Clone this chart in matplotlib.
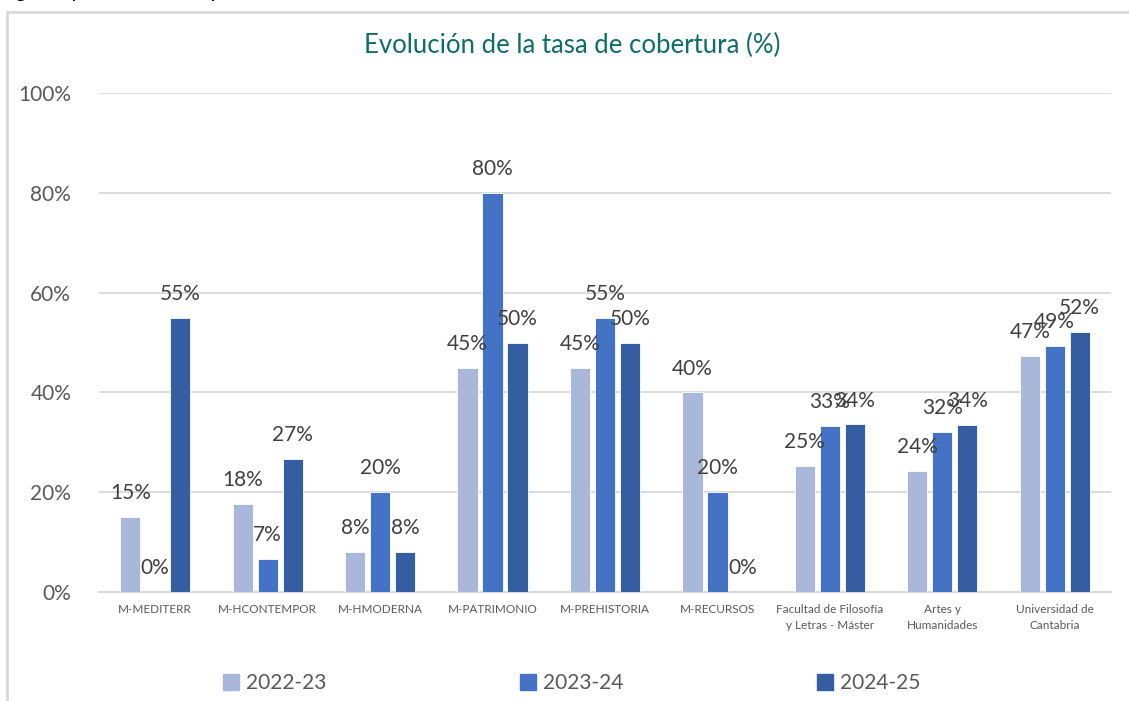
import numpy as np
import matplotlib.pyplot as plt
from matplotlib.patches import Rectangle
from matplotlib.lines import Line2D

plt.rcParams['font.family'] = ['Lato', 'DejaVu Sans']

categorias = ['M-MEDITERR', 'M-HCONTEMPOR', 'M-HMODERNA', 'M-PATRIMONIO',
              'M-PREHISTORIA', 'M-RECURSOS',
              'Facultad de Filosofía\ny Letras - Máster',
              'Artes y\nHumanidades', 'Universidad de\nCantabria']
cursos = ['2022-23', '2023-24', '2024-25']
t_2022 = [15.0, 17.6, 8.0, 45.0, 45.0, 40.0, 25.2, 24.2, 47.4]
t_2023 = [0.0, 6.7, 20.0, 80.0, 55.0, 20.0, 33.3, 32.1, 49.4]
t_2024 = [55.0, 26.6, 8.0, 50.0, 50.0, 0.0, 33.6, 33.5, 52.1]
colores = ['#A9B7DB', '#4472C4', '#355DA2']

gris = '#595959'
fig = plt.figure(figsize=(11.29, 7.01), dpi=100)
ax = fig.add_axes([0.0877, 0.1555, 0.8963, 0.7115])

x = np.arange(len(categorias))
ancho = 0.18
paso = 0.222
for k, (serie, col) in enumerate(zip([t_2022, t_2023, t_2024], colores)):
    pos = x + (k - 1) * paso
    bars = ax.bar(pos, serie, width=ancho, color=col, edgecolor='white',
                  linewidth=0.6, zorder=3)
    for b, v in zip(bars, serie):
        ax.annotate(f'{v:.0f}%', (b.get_x() + b.get_width() / 2, v),
                    xytext=(0, 10), textcoords='offset points',
                    ha='center', va='bottom', fontsize=15, color='#404040',
                    zorder=4)

ax.set_xlim(-0.5, len(categorias) - 0.5)
ax.set_ylim(0, 100)
ax.set_yticks(np.arange(0, 101, 20))
ax.set_yticklabels([f'{v}%' for v in range(0, 101, 20)], fontsize=15, color=gris)
ax.set_xticks(x)
ax.set_xticklabels(categorias, fontsize=8.5, color=gris, linespacing=1.5)
ax.tick_params(axis='both', length=0)
ax.tick_params(axis='y', pad=20)
ax.tick_params(axis='x', pad=9)
ax.grid(axis='y', color='#D9D9D9', linewidth=1.3, zorder=0)
for s in ['top', 'right', 'left']:
    ax.spines[s].set_visible(False)
ax.spines['bottom'].set_color('#D9D9D9')
ax.spines['bottom'].set_linewidth(1.5)

fig.text(0.507, 0.935, 'Evolución de la tasa de cobertura (%)', ha='center',
         va='center', fontsize=18.5, color='#0E6D69')

# texto del documento cortado arriba
fig.text(0.0, 1.013, 'ingreso y el número de plazas ofertadas.', ha='left',
         va='center', fontsize=16, style='italic', color='black')

# marco del gráfico
fig.add_artist(Line2D([0.0065, 1.0], [0.983, 0.983], transform=fig.transFigure,
                      color='#D9D9D9', linewidth=2))
fig.add_artist(Line2D([0.0065, 0.0065], [0.0, 0.983], transform=fig.transFigure,
                      color='#D9D9D9', linewidth=2))

handles = [Rectangle((0, 0), 1, 1, color=c) for c in colores]
fig.legend(handles, cursos, loc='center', bbox_to_anchor=(0.506, 0.025), ncol=3,
           frameon=False, fontsize=15, labelcolor=gris, handlelength=0.8,
           handleheight=0.8, handletextpad=0.3, columnspacing=9.3)

fig.savefig('out.png', dpi=100)
